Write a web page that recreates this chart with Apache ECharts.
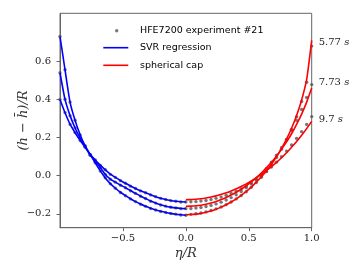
<!DOCTYPE html>
<html><head><meta charset="utf-8">
<script src="https://cdn.jsdelivr.net/npm/echarts@6/dist/echarts.min.js"></script>
<style>html,body{margin:0;padding:0;background:#fff}#c{width:363px;height:273px}</style>
</head><body><div id="c"></div>
<script>
// x positions (eta/R)
const xLeft = [-1.00,-0.96,-0.92,-0.88,-0.84,-0.80,-0.76,-0.72,-0.68,-0.64,-0.60,-0.56,-0.52,-0.48,-0.44,-0.40,-0.36,-0.32,-0.28,-0.24,-0.20,-0.16,-0.12,-0.08,-0.04,0.00];
const xRight = [0.00,0.04,0.08,0.12,0.16,0.20,0.24,0.28,0.32,0.36,0.40,0.44,0.48,0.52,0.56,0.60,0.64,0.68,0.72,0.76,0.80,0.84,0.88,0.92,0.96,1.00];

// SVR regression (left half) for t = 5.77 s, 7.73 s, 9.7 s
const svr577 = [0.73,0.555,0.385,0.29,0.215,0.156,0.11,0.067,0.025,-0.012,-0.042,-0.066,-0.087,-0.105,-0.121,-0.136,-0.149,-0.161,-0.171,-0.180,-0.187,-0.193,-0.198,-0.202,-0.205,-0.208];
const svr773 = [0.54,0.40,0.315,0.25,0.197,0.152,0.108,0.075,0.043,0.006,-0.018,-0.034,-0.049,-0.063,-0.078,-0.093,-0.107,-0.120,-0.133,-0.144,-0.153,-0.160,-0.165,-0.169,-0.172,-0.173];
const svr970 = [0.40,0.33,0.27,0.225,0.185,0.148,0.112,0.082,0.055,0.030,0.008,-0.009,-0.025,-0.040,-0.054,-0.067,-0.079,-0.090,-0.100,-0.110,-0.118,-0.125,-0.130,-0.134,-0.137,-0.138];

// spherical cap (right half)
const cap577 = [-0.205,-0.204,-0.202,-0.198,-0.192,-0.185,-0.176,-0.165,-0.153,-0.138,-0.122,-0.103,-0.083,-0.060,-0.034,-0.006,0.025,0.060,0.099,0.143,0.192,0.249,0.316,0.397,0.505,0.71];
const cap773 = [-0.161,-0.160,-0.158,-0.155,-0.150,-0.143,-0.135,-0.125,-0.114,-0.101,-0.087,-0.071,-0.053,-0.033,-0.010,0.014,0.041,0.070,0.102,0.138,0.177,0.220,0.269,0.323,0.386,0.46];
const cap970 = [-0.126,-0.125,-0.124,-0.121,-0.117,-0.112,-0.106,-0.098,-0.090,-0.080,-0.069,-0.056,-0.043,-0.028,-0.011,0.007,0.026,0.047,0.070,0.094,0.120,0.149,0.179,0.212,0.247,0.285];

// experiment points
const exp577L = [0.73,0.556,0.386,0.291,0.214,0.157,0.109,0.068,0.024,-0.011,-0.043,-0.066,-0.088,-0.105,-0.122,-0.136,-0.150,-0.161,-0.172,-0.180,-0.188,-0.193,-0.199,-0.202,-0.206,-0.208];
const exp773L = [0.54,0.401,0.314,0.251,0.196,0.153,0.107,0.076,0.042,0.007,-0.019,-0.034,-0.050,-0.063,-0.079,-0.093,-0.108,-0.120,-0.134,-0.144,-0.154,-0.160,-0.166,-0.169,-0.173,-0.173];
const exp970L = [0.40,0.331,0.269,0.226,0.184,0.149,0.111,0.083,0.054,0.031,0.007,-0.009,-0.026,-0.040,-0.055,-0.067,-0.080,-0.090,-0.101,-0.110,-0.119,-0.125,-0.131,-0.134,-0.138,-0.138];
const exp577R = [-0.208,-0.203,-0.200,-0.196,-0.190,-0.183,-0.174,-0.164,-0.152,-0.138,-0.122,-0.104,-0.084,-0.061,-0.036,-0.008,0.023,0.057,0.095,0.138,0.187,0.243,0.309,0.389,0.49,0.68];
const exp773R = [-0.173,-0.172,-0.170,-0.167,-0.162,-0.156,-0.148,-0.139,-0.128,-0.115,-0.100,-0.083,-0.064,-0.043,-0.019,0.008,0.038,0.071,0.107,0.147,0.190,0.238,0.290,0.347,0.410,0.478];
const exp970R = [-0.138,-0.137,-0.136,-0.133,-0.130,-0.125,-0.119,-0.112,-0.103,-0.093,-0.082,-0.069,-0.055,-0.039,-0.021,-0.001,0.021,0.045,0.071,0.099,0.129,0.161,0.195,0.231,0.269,0.31];

// ticks and annotations
const xTicks = [-0.5, 0.0, 0.5, 1.0];
const yTicks = [-0.2, 0.0, 0.2, 0.4, 0.6];
const timeLabels = ['5.77', '7.73', '9.7'];
const timeLabelY = [0.70, 0.49, 0.295];

const NAME_EXP = 'HFE7200 experiment #21';
const NAME_SVR = 'SVR regression';
const NAME_CAP = 'spherical cap';

function pairs(xs, ys) { return xs.map((x, i) => [x, ys[i]]); }
function fmt(v) { return (v < 0 ? '\u2212' : '') + Math.abs(v).toFixed(1); }

const expData = [].concat(
  pairs(xLeft, exp577L), pairs(xRight.slice(1), exp577R.slice(1)),
  pairs(xLeft, exp773L), pairs(xRight.slice(1), exp773R.slice(1)),
  pairs(xLeft, exp970L), pairs(xRight.slice(1), exp970R.slice(1))
);

function lineSeries(name, color, data) {
  return { type: 'line', name: name, data: data, symbol: 'none', smooth: 0.2,
    color: color, lineStyle: { color: color, width: 1.6 }, z: 3, silent: true, animation: false };
}

const chart = echarts.init(document.getElementById('c'), null, { renderer: 'canvas' });
const legendText = { fontFamily: 'DejaVu Sans', fontSize: 9.5, color: '#000', lineHeight: 12 };
const lineIcon = 'path://M0,0H25V1.6H0Z';
chart.setOption({
  animation: false,
  grid: { left: 60, right: 51.3, top: 13.3, bottom: 45.3, containLabel: false, outerBoundsMode: 'none',
    show: true, borderColor: '#666', borderWidth: 1, backgroundColor: 'transparent' },
  legend: [
    { data: [NAME_EXP], left: 115, top: 24.7, orient: 'vertical', padding: 0, itemWidth: 3.4, itemHeight: 3.4, icon: 'circle',
      selectedMode: false, textStyle: Object.assign({ padding: [0, 0, 0, 16.6] }, legendText) },
    { data: [{ name: NAME_SVR, icon: lineIcon }, { name: NAME_CAP, icon: lineIcon }], left: 103.3, top: 41.7, orient: 'vertical', padding: 0,
      itemWidth: 25, itemHeight: 1.6, itemGap: 5.6,
      selectedMode: false, textStyle: Object.assign({ padding: [0, 0, 0, 6.7] }, legendText) }
  ],
  xAxis: {
    type: 'value', min: -1, max: 1,
    axisLine: { show: true, onZero: false, lineStyle: { color: '#666', width: 1 } },
    splitLine: { show: false },
    axisTick: { show: true, length: 3.5, customValues: xTicks, lineStyle: { color: '#666' } },
    axisLabel: { customValues: xTicks, formatter: fmt, fontFamily: 'DejaVu Serif', fontSize: 10, color: '#222', margin: 6 },
    name: '\u03b7/R', nameLocation: 'middle', nameGap: 19, nameMoveOverlap: false,
    nameTextStyle: { fontFamily: 'DejaVu Serif', fontStyle: 'italic', fontSize: 13, color: '#333' }
  },
  yAxis: {
    type: 'value', min: -0.273, max: 0.852,
    axisLine: { show: true, onZero: false, lineStyle: { color: '#666', width: 1 } },
    splitLine: { show: false },
    axisTick: { show: true, length: 3.5, customValues: yTicks, lineStyle: { color: '#666' } },
    axisLabel: { customValues: yTicks, formatter: fmt, fontFamily: 'DejaVu Serif', fontSize: 10, color: '#222', margin: 9 },
    name: '(h \u2212 h\u0304)/R', nameLocation: 'middle', nameGap: 30, nameMoveOverlap: false,
    nameTextStyle: { fontFamily: 'DejaVu Serif', fontStyle: 'italic', fontSize: 13, color: '#333' }
  },
  series: [
    { type: 'scatter', name: NAME_EXP, data: expData, symbolSize: 3.4, color: '#555',
      itemStyle: { color: '#555' }, z: 2, silent: true, animation: false },
    lineSeries(NAME_SVR, '#0000ff', pairs(xLeft, svr577)),
    lineSeries(NAME_SVR, '#0000ff', pairs(xLeft, svr773)),
    lineSeries(NAME_SVR, '#0000ff', pairs(xLeft, svr970)),
    lineSeries(NAME_CAP, '#ff0000', pairs(xRight, cap577)),
    lineSeries(NAME_CAP, '#ff0000', pairs(xRight, cap773)),
    lineSeries(NAME_CAP, '#ff0000', pairs(xRight, cap970))
  ]
});

const texts = timeLabels.map((t, i) => {
  const p = chart.convertToPixel({ gridIndex: 0 }, [1.0, timeLabelY[i]]);
  return {
    type: 'text', x: p[0] + 7, y: p[1], silent: true,
    style: {
      text: '{n|' + t + ' }{s|s}', verticalAlign: 'middle', align: 'left',
      rich: {
        n: { fontFamily: 'DejaVu Serif', fontSize: 10, fill: '#222' },
        s: { fontFamily: 'DejaVu Serif', fontStyle: 'italic', fontSize: 10, fill: '#222' }
      }
    }
  };
});
chart.setOption({ graphic: texts });
</script>
</body></html>
